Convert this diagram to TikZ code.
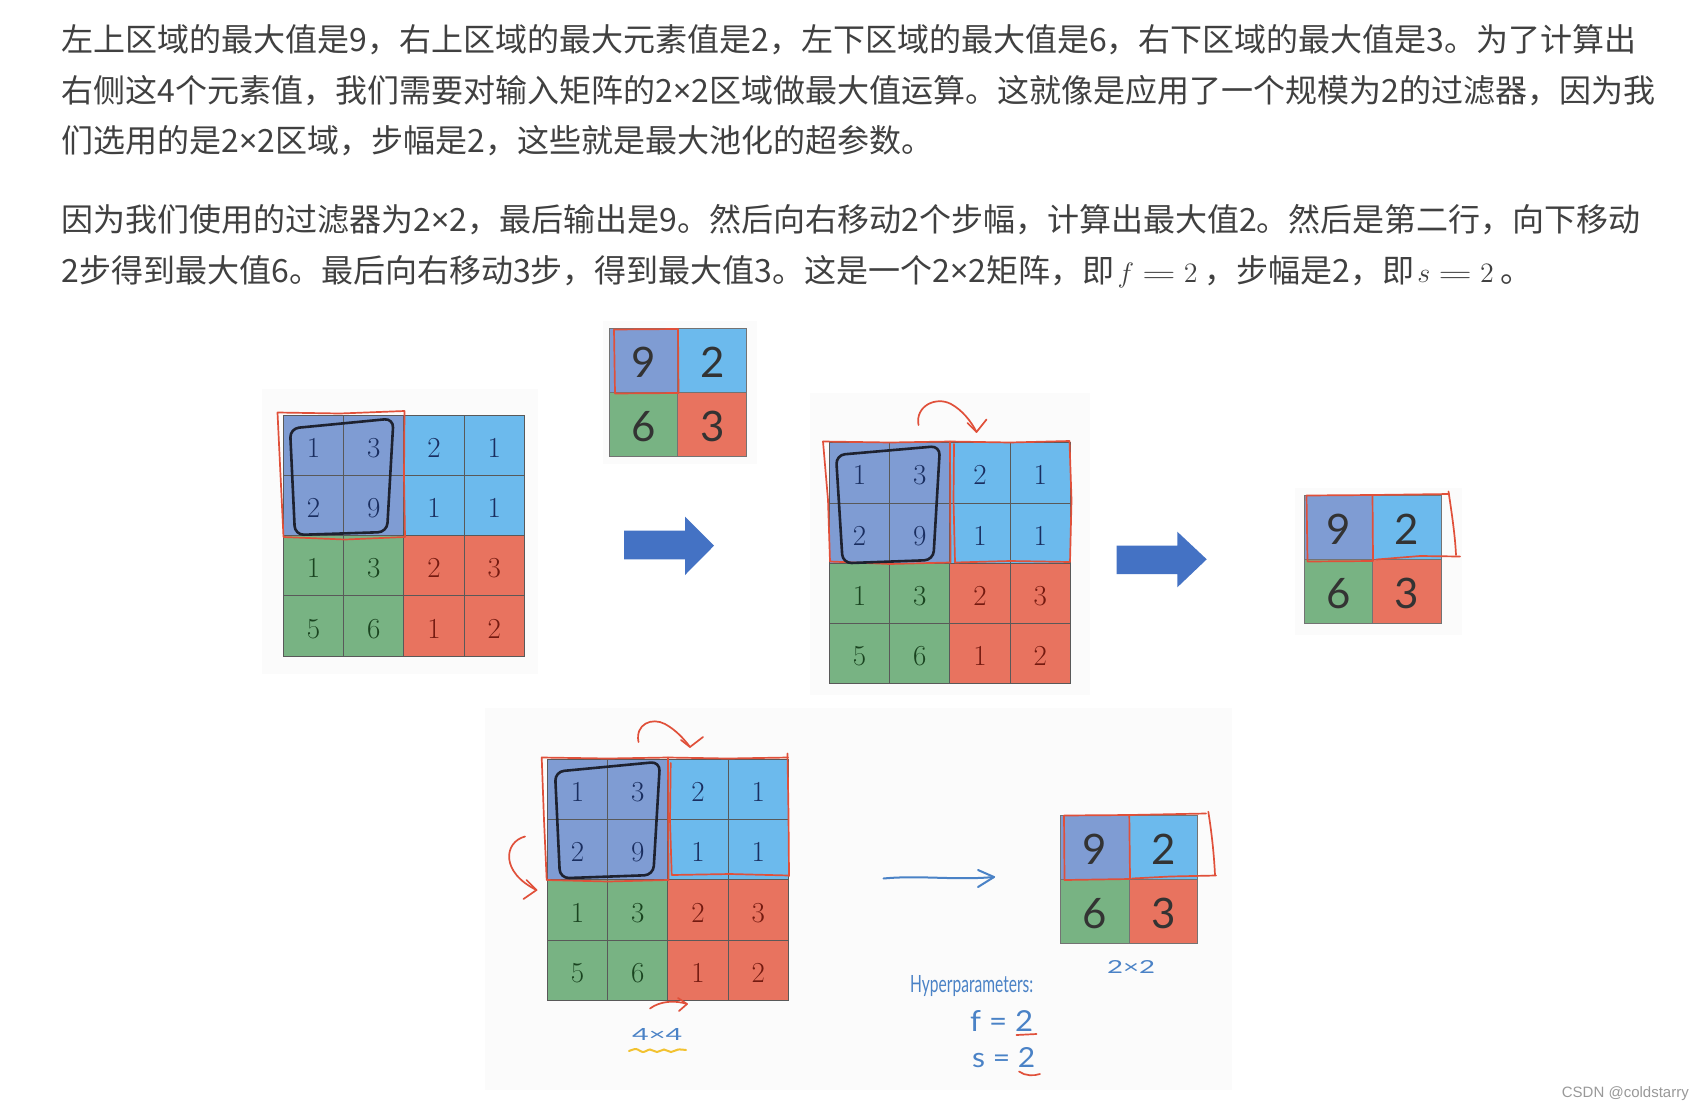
\documentclass[tikz,border=0pt]{standalone}
\usepackage{fontspec}
\usepackage{graphicx}
\newfontfamily\cjk{Noto Sans CJK SC}
\newfontfamily\latinsans{Noto Sans}
\newfontfamily\handfont{Lato}
\newfontfamily\wmfont{Liberation Sans}
\usetikzlibrary{calc}
\newcommand{\tms}{{\latinsans ×}}
\newcommand{\wideeq}{\mathrel{\scalebox{1.6}[1]{$=$}}}
\newcommand{\bigmath}[1]{\hspace{3pt}{\fontsize{14.4}{16}\selectfont\scalebox{1.95}{$#1$}}\hspace{7pt}}
\definecolor{txt}{HTML}{404040}
\definecolor{cP}{HTML}{7F9CD3}
\definecolor{cB}{HTML}{6CBAED}
\definecolor{cG}{HTML}{78B383}
\definecolor{cR}{HTML}{E8735F}
\definecolor{tB}{HTML}{1A2E60}
\definecolor{tG}{HTML}{1A4420}
\definecolor{tR}{HTML}{741A10}
\definecolor{handred}{HTML}{E0503A}
\definecolor{handblack}{HTML}{1E2230}
\definecolor{handblue}{HTML}{4A82C6}
\definecolor{arrowblue}{HTML}{4472C4}
\definecolor{shotbg}{HTML}{FBFBFB}
\definecolor{wm}{HTML}{999999}
\definecolor{hlyellow}{HTML}{F2C230}
\tikzset{
  cell/.style={draw=black!65, line width=1pt, minimum width=60.3pt, minimum height=60.3pt,
    inner sep=0pt, text height=24pt, text depth=0pt,
    font=\addfontfeatures{FakeBold=0.8}\fontsize{29}{30}\selectfont},
  outcell/.style={draw=black!55, line width=1pt, minimum width=68.6pt, minimum height=64.3pt,
    inner sep=0pt, text height=34pt, text depth=0pt, text=black!80, font=\handfont\fontsize{42}{44}\selectfont},
  redhand/.style={draw=handred, line width=1.7pt, line cap=round, line join=round},
  blackhand/.style={draw=handblack, line width=2.6pt, line cap=round, line join=round, rounded corners=9pt},
  bluehand/.style={draw=handblue, line width=2pt, line cap=round, line join=round},
  handtxt/.style={text=handblue, inner sep=0pt, font=\handfont},
  para/.style={anchor=base west, inner sep=0pt, text=txt, font=\cjk\fontsize{32}{36}\selectfont},
  bigarrow/.style={fill=arrowblue}
}
\newcommand{\fourgrid}[3]{%
  \foreach \rr/\cc/\vv/\fc/\tc in {1/1/1/cP/tB,1/2/3/cP/tB,1/3/2/cB/tB,1/4/1/cB/tB,
      2/1/2/cP/tB,2/2/9/cP/tB,2/3/1/cB/tB,2/4/1/cB/tB,
      3/1/1/cG/tG,3/2/3/cG/tG,3/3/2/cR/tR,3/4/3/cR/tR,
      4/1/5/cG/tG,4/2/6/cG/tG,4/3/1/cR/tR,4/4/2/cR/tR}{%
    \node[cell, fill=\fc, text=\tc] (#1-\rr\cc) at ({#2+(\cc-0.5)*60.3},{#3+(\rr-0.5)*60.3}) {\vv};
  }}
\newcommand{\outgrid}[3]{%
  \foreach \rr/\cc/\vv/\fc in {1/1/9/cP,1/2/2/cB,2/1/6/cG,2/2/3/cR}{%
    \node[outcell, fill=\fc] (#1-\rr\cc) at ({#2+(\cc-0.5)*68.6},{#3+(\rr-0.5)*64.3}) {\vv};
  }}
\begin{document}
\begin{tikzpicture}[x=1pt,y=-1pt]
\fill[white] (0,0) rectangle (1704,1108);
\useasboundingbox (0,0) rectangle (1704,1108);

% paragraph text
\node[para] (l1) at (61.5,51.5) {左上区域的最大值是9，右上区域的最大元素值是2，左下区域的最大值是6，右下区域的最大值是3。为了计算出};
\node[para] (l2) at (61.5,102) {右侧这4个元素值，我们需要对输入矩阵的2\tms 2区域做最大值运算。这就像是应用了一个规模为2的过滤器，因为我};
\node[para] (l3) at (61.5,152.5) {们选用的是2\tms 2区域，步幅是2，这些就是最大池化的超参数。};
\node[para] (l4) at (61.5,231.5) {因为我们使用的过滤器为2\tms 2，最后输出是9。然后向右移动2个步幅，计算出最大值2。然后是第二行，向下移动};
\node[para] (l5) at (61.5,282) {2步得到最大值6。最后向右移动3步，得到最大值3。这是一个2\tms 2矩阵，即\bigmath{f\wideeq 2}，步幅是2，即\bigmath{s\wideeq 2}。};

% screenshot backgrounds
\fill[shotbg] (261.5,389) rectangle (538,673.5);
\fill[shotbg] (603,321) rectangle (756.5,463.5);
\fill[shotbg] (810,393) rectangle (1090,695);
\fill[shotbg] (1295,488) rectangle (1461.5,635);
\fill[shotbg] (485,708) rectangle (1232,1090);

% ---------- panel 1 ----------
\fourgrid{ga}{283.3}{415}
\draw[redhand] (277.5,412.5) -- (340,413.5) -- (404.5,411) -- (404,476) -- (405,537)
  -- (345,539.5) -- (283.5,537) -- (280.5,475) -- cycle;
\draw[blackhand] (290,428.5) -- (393.5,418.5) -- (387,532) -- (295,535) -- cycle;

\outgrid{oa}{609.3}{328.3}
\draw[redhand] (614,329.5) -- (678,329) -- (678.5,393) -- (615,393.5) -- cycle;

\fill[bigarrow] (624,530.7) -- (685,530.7) -- (685,516.7) -- (714,545.7) -- (685,575)
  -- (685,559.3) -- (624,559.3) -- cycle;

% ---------- panel 2 ----------
\fourgrid{gb}{829.3}{442.7}
\draw[redhand] (823,441.5) -- (890,442.5) -- (950,441.5) -- (1010,442.5) -- (1069.5,441)
  -- (1071.5,500) -- (1070,562) -- (1010,561) -- (955,562.5);
\draw[redhand] (823,441.5) -- (828,500) -- (830,561.5) -- (890,564) -- (950,562.5);
\draw[redhand] (950,441.5) -- (950.5,562.5);
\draw[redhand] (954,444) -- (953.5,500) -- (955,562.5);
\draw[blackhand] (836,455) -- (940,446) -- (933.3,560) -- (842.7,563.3) -- cycle;
\coordinate (cb1) at (918.5,425);
\coordinate (cb2) at (976.5,432);
\draw[redhand] (cb1) .. controls (915,406) and (936,396) .. (951,404)
  .. controls (962,410) and (971,421) .. (cb2);
\draw[redhand] ($(cb2)+(-9,-9)$) -- (cb2) -- ($(cb2)+(10,-12.5)$);

\fill[bigarrow] (1116.7,545.7) -- (1177.3,545.7) -- (1177.3,531.7) -- (1206.7,559.3)
  -- (1177.3,587.3) -- (1177.3,574) -- (1116.7,574) -- cycle;

\outgrid{ob}{1304}{495}
\draw[redhand] (1306.5,495.5) -- (1372.5,495) -- (1373,561) -- (1307.5,561.5) -- cycle;
\draw[redhand] (1372.5,495) -- (1449,494);
\draw[redhand] (1448.5,491.5) .. controls (1452,515) and (1455,535) .. (1456,555);
\draw[redhand] (1460,556.5) -- (1420,556) -- (1376.5,559.5);

% ---------- panel 3 ----------
\fourgrid{gc}{547.3}{759.3}
\draw[redhand] (541.7,757.5) -- (608,758.5) -- (668,757.5) -- (728,758.5) -- (788,757.5);
\draw[redhand] (787.5,753.5) -- (788.5,815) -- (789,876);
\draw[redhand] (541.7,757.5) -- (544,820) -- (546.7,880) -- (608,881.5) -- (668,880);
\draw[redhand] (668,757.5) -- (668.5,880);
\draw[redhand] (670.7,763) -- (670,820) -- (671.7,875) -- (730,874) -- (789,875.5);
\draw[blackhand] (555,771.7) -- (660,761.7) -- (653.3,875) -- (560,878.3) -- cycle;
\coordinate (cc1) at (638.5,742);
\coordinate (cc2) at (690,747);
\draw[redhand] (cc1) .. controls (635,724) and (652,717) .. (665,724)
  .. controls (676,730) and (684,739) .. (cc2);
\draw[redhand] ($(cc2)+(-9,-7)$) -- (cc2) -- ($(cc2)+(13,-10)$);
\coordinate (cl1) at (525,836.5);
\coordinate (cl2) at (536.5,890);
\draw[redhand] (cl1) .. controls (504,842) and (500,872) .. (cl2);
\draw[redhand] ($(cl2)+(-10,-10)$) -- (cl2) -- ($(cl2)+(-13,9)$);
\coordinate (cd1) at (650,1008.5);
\coordinate (cd2) at (687,1004);
\draw[redhand] (cd1) .. controls (660,1001) and (675,1000) .. (cd2);
\draw[redhand] ($(cd2)+(-9,-6)$) -- (cd2) -- ($(cd2)+(-8,7)$);
\node[handtxt, anchor=base west] (size4) at (632,1040) {\resizebox{50pt}{12pt}{4×4}};
\draw[draw=hlyellow, line width=2pt, line cap=round] plot[smooth] coordinates {(629,1051) (636,1049) (643,1052) (650,1049.5) (657,1052) (664,1049.5) (671,1052) (678,1049.5) (686,1050)};

\coordinate (ta1) at (883.5,878.5);
\coordinate (ta2) at (994,877);
\draw[bluehand] (ta1) .. controls (920,875) and (955,880.5) .. (ta2);
\draw[bluehand] ($(ta2)+(-16,-7)$) -- (ta2) -- ($(ta2)+(-16,10)$);

\outgrid{oc}{1060.7}{815}
\draw[redhand] (1064,815.5) -- (1129.3,815) -- (1130,879) -- (1064.5,880) -- cycle;
\draw[redhand] (1129.3,815) -- (1206,813.5);
\draw[redhand] (1208.3,811.7) .. controls (1212,835) and (1214,855) .. (1215,875);
\draw[redhand] (1216,875.5) -- (1170,876.5) -- (1132,878.5);
\node[handtxt, anchor=base west] (size2) at (1107,973) {\resizebox{48pt}{13pt}{2×2}};
\node[handtxt, anchor=base west] (hyp) at (910,992) {\resizebox{123pt}{17pt}{Hyperparameters:}};
\node[handtxt, anchor=base west] (fval) at (970,1031) {\resizebox{63pt}{21pt}{f = 2}};
\node[handtxt, anchor=base west] (sval) at (972,1067) {\resizebox{63pt}{20pt}{s = 2}};
\draw[redhand] (1016.5,1035) -- (1036.5,1034);
\draw[redhand] (1019,1071.5) .. controls (1025,1076) and (1034,1076) .. (1040,1074);

% watermark
\node[anchor=base east, inner sep=0pt, text=wm, font=\wmfont\fontsize{15}{18}\selectfont] (wmk) at (1689,1097) {CSDN @coldstarry};
\end{tikzpicture}
\end{document}
